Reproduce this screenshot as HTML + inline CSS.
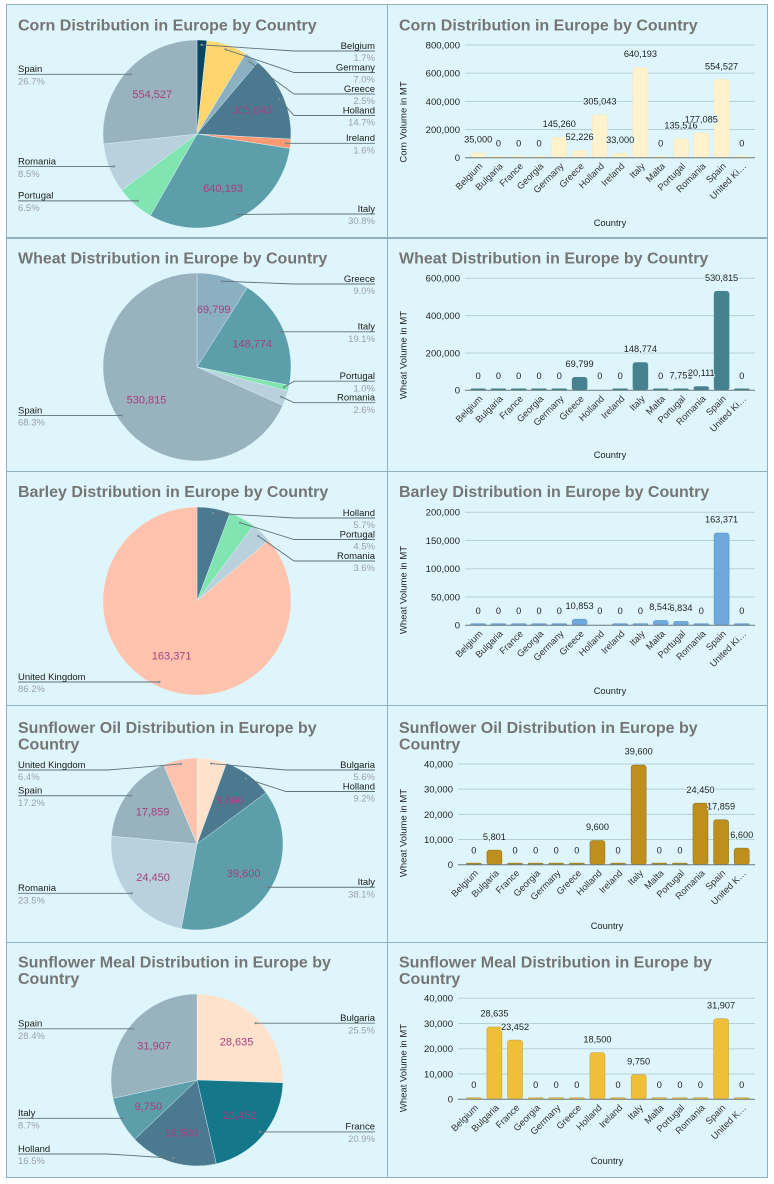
<!DOCTYPE html>
<html lang="en">
<head>
<meta charset="utf-8">
<title>Distribution in Europe by Country</title>
<style>
html,body{margin:0;padding:0;background:#fff;}
body{width:774px;height:1184px;overflow:hidden;font-family:"Liberation Sans",sans-serif;}
svg{display:block;}
text{font-family:"Liberation Sans",sans-serif;}
</style>
</head>
<body>
<svg id="root" width="774" height="1184" viewBox="0 0 774 1184"></svg>
<script>
// ---------- Data ----------
const countries = ['Belgium','Bulgaria','France','Georgia','Germany','Greece','Holland','Ireland','Italy','Malta','Portugal','Romania','Spain','United Kingdom'];

const cornValues   = [35000,0,0,0,145260,52226,305043,33000,640193,0,135516,177085,554527,0];
const wheatValues  = [0,0,0,0,0,69799,0,0,148774,0,7751,20111,530815,0];
const barleyValues = [0,0,0,0,0,10853,0,0,0,8543,6834,0,163371,0];
const oilValues    = [0,5801,0,0,0,0,9600,0,39600,0,0,24450,17859,6600];
const mealValues   = [0,28635,23452,0,0,0,18500,0,9750,0,0,0,31907,0];

const cornTicks   = [0,200000,400000,600000,800000];
const wheatTicks  = [0,200000,400000,600000];
const barleyTicks = [0,50000,100000,150000,200000];
const oilTicks    = [0,10000,20000,30000,40000];
const mealTicks   = [0,10000,20000,30000,40000];

const cornPieCountries   = ['Belgium','Germany','Greece','Holland','Ireland','Italy','Portugal','Romania','Spain'];
const cornPieValues      = [35000,145260,52226,305043,33000,640193,135516,177085,554527];
const wheatPieCountries  = ['Greece','Italy','Portugal','Romania','Spain'];
const wheatPieValues     = [69799,148774,7751,20111,530815];
const barleyPieCountries = ['Holland','Portugal','Romania','United Kingdom'];
const barleyPieValues    = [10853,8543,6834,163371];
const oilPieCountries    = ['Bulgaria','Holland','Italy','Romania','Spain','United Kingdom'];
const oilPieValues       = [5801,9600,39600,24450,17859,6600];
const mealPieCountries   = ['Bulgaria','France','Holland','Italy','Spain'];
const mealPieValues      = [28635,23452,18500,9750,31907];

// ---------- Styles ----------
const sliceColors = {
  'Belgium':'#0a4560','Bulgaria':'#ffe2cb','France':'#14778a','Germany':'#ffd66e','Greece':'#8ab0c2',
  'Holland':'#4b7a90','Ireland':'#ff9a72','Italy':'#5c9eaa','Portugal':'#80e5b0','Romania':'#b9d1dc',
  'Spain':'#98b2be','United Kingdom':'#ffc2ad'
};
const svg = document.getElementById('root');
const NS = 'http://www.w3.org/2000/svg';

function add(parent, tag, props, name, interactable) {
  const el = document.createElementNS(NS, tag);
  for (const k in props) el.setAttribute(k, props[k]);
  
  
  parent.appendChild(el);
  return el;
}
function addText(parent, str, props, name) {
  const el = add(parent, 'text', props, name, false);
  el.textContent = str;
  return el;
}
function slug(s) { return s.toLowerCase().replace(/[^a-z0-9]+/g, '-'); }
function fmt(v) { return v.toLocaleString('en-US'); }

// ---------- Panels ----------
function drawPanel(x, y, w, h, key) {
  add(svg, 'rect', {x:x+.5, y:y+.5, width:w, height:h, fill:'#def6fb', stroke:'#8db1c0', 'stroke-width':1}, key + '-panel', false);
}
function drawTitle(g, x, y, lines, key) {
  lines.forEach(function(line, i) {
    addText(g, line, {x:x, y:y + i*16.5, 'font-size':16, 'font-weight':'bold', fill:'#757575'}, key + '-title-line-' + (i+1));
  });
}

// ---------- Pie ----------
function resolveLabels(items, minY, maxY) {
  const s = 21.5;
  items.sort(function(a,b){ return a.ay - b.ay; });
  items.forEach(function(it){ it.y = it.ay; });
  for (let n = 0; n < 300; n++) {
    for (let i = 1; i < items.length; i++) {
      const gap = items[i].y - items[i-1].y;
      if (gap < s) { const d = (s-gap)/2; items[i].y += d; items[i-1].y -= d; }
    }
  }
  items.forEach(function(it, i){
    const lower = i ? items[i-1].y + s : minY;
    if (it.y < lower) it.y = lower;
  });
  for (let i = items.length-1; i >= 0; i--) {
    const upper = i < items.length-1 ? items[i+1].y - s : maxY;
    if (items[i].y > upper) items[i].y = upper;
  }
}
function drawPie(cfg) {
  const g = add(svg, 'g', {}, cfg.key + '-pie-chart', false);
  drawTitle(g, 18, cfg.titleY, cfg.title, cfg.key + '-pie');
  const total = cfg.values.reduce(function(a,b){return a+b;}, 0);
  const cx = cfg.cx, cy = cfg.cy, r = cfg.r;
  let cum = 0;
  const left = [], right = [], vals = [];
  cfg.values.forEach(function(v, i) {
    const a0 = cum/total*2*Math.PI; cum += v;
    const a1 = cum/total*2*Math.PI;
    const mid = (a0+a1)/2;
    const name = cfg.names[i];
    const large = a1-a0 > Math.PI ? 1 : 0;
    const d = 'M'+cx+' '+cy+'L'+(cx+r*Math.sin(a0))+' '+(cy-r*Math.cos(a0))+'A'+r+' '+r+' 0 '+large+' 1 '+(cx+r*Math.sin(a1))+' '+(cy-r*Math.cos(a1))+'Z';
    add(g, 'path', {d:d, fill:sliceColors[name], stroke:'#def6fb', 'stroke-width':.4}, 'slice-' + slug(name), true);
    const item = {name:name, pct:(v/total*100).toFixed(1)+'%', ax:cx+.95*r*Math.sin(mid), ay:cy-.95*r*Math.cos(mid)};
    if (mid < Math.PI) right.push(item); else left.push(item);
    if (v/total >= .086) vals.push({v:v, x:cx+.64*r*Math.sin(mid), y:cy-.64*r*Math.cos(mid), name:name});
  });
  [[right,1],[left,-1]].forEach(function(pair) {
    const items = pair[0], side = pair[1];
    resolveLabels(items, cfg.minY, cfg.maxY);
    items.forEach(function(it) {
      const edge = side > 0 ? 375 : 18;
      const elbow = cx + side*(r+3);
      const key = slug(it.name);
      const pts = edge+','+it.y+' '+elbow+','+it.y+' '+it.ax+','+it.ay;
      add(g, 'polyline', {points:pts, fill:'none', stroke:'#5f7279', 'stroke-width':.9}, 'leader-line-' + key, false);
      add(g, 'circle', {cx:it.ax, cy:it.ay, r:1.2, fill:'#7b9099'}, 'leader-dot-' + key, false);
      addText(g, it.name, {x:edge, y:it.y-2.2, 'font-size':9.5, fill:'#1a1a1a', 'text-anchor':side>0?'end':'start'}, 'legend-name-' + key);
      addText(g, it.pct, {x:edge, y:it.y+10.2, 'font-size':9.5, fill:'#9aa0a6', 'text-anchor':side>0?'end':'start'}, 'legend-percent-' + key);
    });
  });
  vals.forEach(function(o) {
    addText(g, fmt(o.v), {x:o.x, y:o.y+4, 'font-size':11, fill:'#a63f80', 'text-anchor':'middle'}, 'slice-value-' + slug(o.name));
  });
}

// ---------- Bars ----------
function drawBars(cfg) {
  const g = add(svg, 'g', {}, cfg.key + '-bar-chart', false);
  drawTitle(g, 399, cfg.titleY, cfg.title, cfg.key + '-bar');
  const maxT = cfg.ticks[cfg.ticks.length-1];
  const yScale = function(v){ return cfg.y0 - v/maxT*(cfg.y0-cfg.yTop); };
  const step = (752 - cfg.bandStart)/countries.length;
  const xScale = function(i){ return cfg.bandStart + (i+.5)*step; };
  cfg.ticks.forEach(function(t) {
    if (t !== 0) add(g, 'line', {x1:cfg.plotX, x2:755, y1:yScale(t), y2:yScale(t), stroke:'#b5cfd9', 'stroke-width':1}, 'gridline-' + t, false);
    addText(g, fmt(t), {x:cfg.plotX-5, y:yScale(t)+3.4, 'font-size':9.5, fill:'#222', 'text-anchor':'end'}, 'y-tick-' + t);
  });
  cfg.values.forEach(function(v, i) {
    const name = countries[i];
    const cxb = xScale(i);
    const top = yScale(v);
    const noStub = v === 0 && cfg.noStub.indexOf(name) >= 0;
    const h = Math.max(cfg.y0-top, 1.6);
    if (!noStub) {
      add(g, 'rect', {x:cxb-7.5, y:cfg.y0-h, width:15, height:h, rx:Math.min(2.5,h/2), fill:cfg.color, stroke:cfg.edge, 'stroke-width':.5}, 'bar-' + slug(name), true);
    }
    const short = name === 'United Kingdom' ? cfg.ukLabel : name;
    const lx = cxb + 5, ly = cfg.y0 + 9;
    addText(g, short, {x:lx, y:ly, 'font-size':9.3, fill:'#333', 'text-anchor':'end', transform:'rotate(-45 '+lx+' '+ly+')'}, 'x-tick-' + slug(name));
  });
  add(g, 'line', {x1:cfg.plotX, x2:755, y1:cfg.y0, y2:cfg.y0, stroke:'#68797f', 'stroke-width':1}, 'x-axis-line', false);
  cfg.values.forEach(function(v, i) {
    const name = countries[i];
    const top = yScale(v);
    addText(g, fmt(v), {x:xScale(i), y:Math.min(top,cfg.y0-1)-10.3, 'font-size':9.2, fill:'#222', 'text-anchor':'middle', stroke:'#def6fb', 'stroke-width':1.6, 'paint-order':'stroke'}, 'bar-value-' + slug(name));
  });
  addText(g, 'Country', {x:cfg.countryX, y:cfg.countryY, 'font-size':9.3, fill:'#222', 'text-anchor':'middle'}, 'x-axis-title');
  const tx = 406.3, ty = cfg.yTitleY;
  addText(g, cfg.yTitle, {x:tx, y:ty, 'font-size':9.5, fill:'#222', 'text-anchor':'middle', transform:'rotate(-90 '+tx+' '+ty+')'}, 'y-axis-title');
}

// ---------- Build ----------
const rows = [4, 238, 471, 705, 942];
const heights = [233, 233, 234, 237, 235];
rows.forEach(function(y, i) {
  drawPanel(6, y, 381, heights[i], 'row-' + (i+1) + '-left');
  drawPanel(387, y, 380, heights[i], 'row-' + (i+1) + '-right');
});

drawPie({key:'corn', title:['Corn Distribution in Europe by Country'], titleY:30.5, names:cornPieCountries, values:cornPieValues, cx:197, cy:134, r:94, minY:51, maxY:214});
drawPie({key:'wheat', title:['Wheat Distribution in Europe by Country'], titleY:263.5, names:wheatPieCountries, values:wheatPieValues, cx:197, cy:367, r:94, minY:284, maxY:448});
drawPie({key:'barley', title:['Barley Distribution in Europe by Country'], titleY:497, names:barleyPieCountries, values:barleyPieValues, cx:197, cy:601, r:94, minY:518, maxY:682});
drawPie({key:'sunflower-oil', title:['Sunflower Oil Distribution in Europe by','Country'], titleY:733, names:oilPieCountries, values:oilPieValues, cx:197, cy:844, r:86, minY:770, maxY:919});
drawPie({key:'sunflower-meal', title:['Sunflower Meal Distribution in Europe by','Country'], titleY:967.5, names:mealPieCountries, values:mealPieValues, cx:197, cy:1080, r:86, minY:1005, maxY:1154});

drawBars({key:'corn', title:['Corn Distribution in Europe by Country'], titleY:30.5, values:cornValues, ticks:cornTicks, y0:157.7, yTop:45, plotX:465, bandStart:468, color:'#fff2cc', edge:'#f6e7bb', yTitle:'Corn Volume in MT', yTitleY:122, countryX:610, countryY:226, ukLabel:'United Ki…', noStub:[]});
drawBars({key:'wheat', title:['Wheat Distribution in Europe by Country'], titleY:263.5, values:wheatValues, ticks:wheatTicks, y0:390.3, yTop:278.3, plotX:465, bandStart:468, color:'#45818e', edge:'#45818e', yTitle:'Wheat Volume in MT', yTitleY:355, countryX:610, countryY:458, ukLabel:'United Ki…', noStub:['Holland']});
drawBars({key:'barley', title:['Barley Distribution in Europe by Country'], titleY:497, values:barleyValues, ticks:barleyTicks, y0:625.3, yTop:512.3, plotX:465, bandStart:468, color:'#6fa8dc', edge:'#4d8cc4', yTitle:'Wheat Volume in MT', yTitleY:590, countryX:610, countryY:694, ukLabel:'United Ki…', noStub:['Holland']});
drawBars({key:'sunflower-oil', title:['Sunflower Oil Distribution in Europe by','Country'], titleY:733, values:oilValues, ticks:oilTicks, y0:864.7, yTop:764, plotX:458, bandStart:463.5, color:'#bf8f1e', edge:'#7f6a20', yTitle:'Wheat Volume in MT', yTitleY:833, countryX:607, countryY:929, ukLabel:'United K…', noStub:[]});
drawBars({key:'sunflower-meal', title:['Sunflower Meal Distribution in Europe by','Country'], titleY:967.5, values:mealValues, ticks:mealTicks, y0:1099.3, yTop:998.3, plotX:458, bandStart:463.5, color:'#f0bf3a', edge:'#bf9a30', yTitle:'Wheat Volume in MT', yTitleY:1068, countryX:607, countryY:1164, ukLabel:'United K…', noStub:[]});
</script>
</body>
</html>
